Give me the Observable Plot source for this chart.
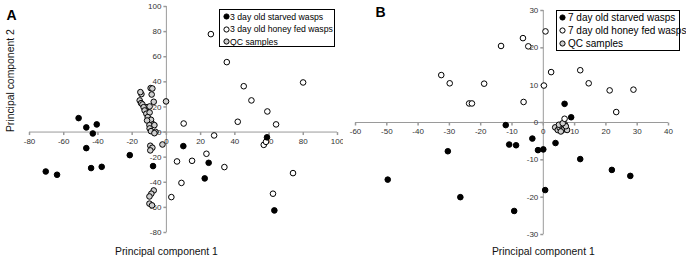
<!DOCTYPE html>
<html><head><meta charset="utf-8">
<script src="https://cdn.jsdelivr.net/npm/d3@7"></script>
<script src="https://cdn.jsdelivr.net/npm/@observablehq/plot@0.6"></script>
<style>
body{margin:0;background:#fff;}
#wrap{display:flex;width:686px;height:261px;overflow:hidden;}
.panel{position:relative;width:343px;height:261px;}
.legend{position:absolute;border:1px solid #000;background:#fff;font-family:"Liberation Sans",Arial,sans-serif;color:#000;box-sizing:border-box;}
.legend .row{display:flex;align-items:center;white-space:nowrap;}
.legend svg{flex:none;}
</style></head><body>
<div id="wrap"><div class="panel" id="pA"></div><div class="panel" id="pB"></div></div>
<script>
// ---------- Panel A data (3 day old) ----------
const starvedA = [[-51.3,11.1],[-46.8,3.7],[-40.7,6.1],[-43,-1.1],[-46.8,-12.8],[-70.5,-31.4],[-63.9,-34],[-44,-28.7],[-37.8,-27.7],[-21.4,-18.4],[-7.8,-27.1],[9.9,-11.2],[24.7,-24.5],[22.4,-36.9],[58.8,-4.2],[63.1,-62.4]];
const honeyA = [[26,78],[35.3,55.7],[45.2,36.5],[79.9,39.5],[49.7,25.2],[59,16.4],[41.7,8.2],[64.1,6.1],[10.1,6.8],[27.9,-2.7],[6.2,-23.4],[15,-22.9],[23.4,-17.3],[33.9,-27.9],[8.8,-40.5],[2.9,-51.8],[74,-32.7],[62.3,-49.1],[56.9,-10.2],[58.2,-7.8]];
const qcA = [[-0.2,24.4],[-9.2,35],[-8.2,34.7],[-8.6,29.9],[-14.6,30.2],[-15.2,31.8],[-15.6,25.2],[-14.8,23],[-14,22],[-7.4,24.1],[-11.3,19.8],[-9.8,20.4],[-13.3,19.8],[-12.7,17.2],[-11.7,14.6],[-9.8,15.6],[-10.9,11.9],[-9,9.8],[-11.3,9.2],[-7.8,6.1],[-9.9,5.5],[-7,5.5],[-9.8,2.9],[-9,0.7],[-6.4,0.2],[-7,-0.9],[-9.4,-10.9],[-8.2,-12.5],[-9.4,-14.6],[-2.3,-9.9],[-7.4,-46.5],[-8.8,-49.1],[-9.9,-51.3],[-9.9,-57],[-8.4,-58.4]];
const ticksA_x = [-80,-60,-40,-20,0,20,40,60,80,100];
const ticksA_y = [-80,-60,-40,-20,0,20,40,60,80,100];
const legendA = ["3 day old starved wasps","3 day old honey fed wasps","QC samples"];

// ---------- Panel B data (7 day old) ----------
const starvedB = [[6.8,5.0],[8.9,1.4],[-12,-0.7],[-10.9,-5.9],[-8.7,-6.1],[-3.5,-4.3],[3.9,-5.5],[-1.7,-7.4],[0,-7.2],[-30.5,-7.7],[-49.7,-15.3],[-26.5,-20],[-9.3,-23.7],[0.6,-18.1],[11.8,-9.8],[21.9,-12.7],[27.8,-14.3]];
const honeyB = [[0.7,24.4],[-6.5,22.6],[-4.8,20.4],[-13.5,20.5],[-32.6,12.7],[-29.9,10.5],[-18.9,10.4],[-23.7,5.1],[-22.8,5.1],[-6.3,5.5],[0.2,9.9],[2.5,13.5],[11.8,14],[14.5,10.5],[21.2,8.6],[28.8,8.8],[23.3,2.8],[6.8,1.0]];
const qcB = [[6.8,-0.4],[3.8,-1.3],[4.6,-2],[5.2,-1.4],[6,-2.1],[6.7,-1.7],[7.6,-2],[5.6,-2.4],[7.2,-1.0],[5.0,-0.6],[6.2,-0.2]];
const ticksB_x = [-60,-50,-40,-30,-20,-10,0,10,20,30,40];
const ticksB_y = [-30,-20,-10,0,10,20,30];
const legendB = ["7 day old starved wasps","7 day old honey fed wasps","QC samples"];

const axisColor = "#9a9a9a";
const labelColor = "#333";
const font = "Liberation Sans, Arial, sans-serif";
const fills = ["#000","#fff","#cfcfcf"];

const tickDown = {draw(ctx){ctx.moveTo(0,0);ctx.lineTo(0,3);}};
const tickLeft = {draw(ctx){ctx.moveTo(0,0);ctx.lineTo(-3,0);}};

function panel({starved, honey, qc, tx, ty, xdom, ydom, margins, letter, letterDx, letterDy, ytitle}) {
  const dots = (data, fill) => Plot.dot(data, {x: d => d[0], y: d => d[1], r: 2.8, fill, stroke: "#000", strokeWidth: 1});
  const marks = [
    Plot.ruleY([0], {x1: xdom[0], x2: xdom[1], stroke: axisColor}),
    Plot.ruleX([0], {y1: ydom[0], y2: ydom[1], stroke: axisColor}),
    Plot.dot(tx, {x: d => d, y: 0, symbol: tickDown, stroke: axisColor, fill: "none"}),
    Plot.dot(ty, {x: 0, y: d => d, symbol: tickLeft, stroke: axisColor, fill: "none"}),
    Plot.text(tx, {x: d => d, y: 0, text: d => String(d), dy: 9, lineAnchor: "middle", fill: labelColor, fontSize: 8}),
    Plot.text(ty, {x: 0, y: d => d, text: d => String(d), dx: -5, textAnchor: "end", lineAnchor: "middle", fill: labelColor, fontSize: 8}),
    dots(qc, fills[2]),
    dots(honey, fills[1]),
    dots(starved, fills[0]),
    Plot.text(["Principal component 1"], {x: 0, frameAnchor: "bottom", dy: margins[2] - 10, lineAnchor: "middle", fontSize: 10.4, fill: "#111"}),
    Plot.text([letter], {frameAnchor: "top-left", dx: letterDx, dy: letterDy, fontSize: 14, fontWeight: "bold", lineAnchor: "top", textAnchor: "start", fill: "#000"})
  ];
  if (ytitle) marks.push(Plot.text(["Principal component 2"], {y: 0, frameAnchor: "left", dx: -19, rotate: -90, lineAnchor: "middle", fontSize: 10.4, fill: "#111"}));
  return Plot.plot({
    width: 343, height: 261,
    marginTop: margins[0], marginRight: margins[1], marginBottom: margins[2], marginLeft: margins[3],
    x: {domain: xdom, axis: null},
    y: {domain: ydom, axis: null},
    style: {fontFamily: font, background: "#fff", overflow: "visible"},
    marks
  });
}

function legend(container, labels, {left, top, width, height, fontSize, rowH, padTop, padLeft, gap}) {
  const div = document.createElement("div");
  div.className = "legend";
  Object.assign(div.style, {left: left+"px", top: top+"px", width: width+"px", height: height+"px", fontSize: fontSize+"px", paddingTop: padTop+"px", paddingLeft: padLeft+"px"});
  labels.forEach((lab, i) => {
    const row = document.createElement("div");
    row.className = "row";
    row.style.height = rowH + "px";
    row.innerHTML = `<svg width="7" height="7" viewBox="-3.5 -3.5 7 7" style="margin-right:${gap}px"><circle r="2.6" fill="${fills[i]}" stroke="#000" stroke-width="1"/></svg><span>${lab}</span>`;
    div.appendChild(row);
  });
  container.appendChild(div);
}

const pA = document.getElementById("pA");
pA.appendChild(panel({starved: starvedA, honey: honeyA, qc: qcA, tx: ticksA_x, ty: ticksA_y,
  xdom: [-80,100], ydom: [-80,100], margins: [6,6,29,29], letter: "A", letterDx: -23, letterDy: 4, ytitle: true}));
legend(pA, legendA, {left: 219, top: 9, width: 116, height: 38, fontSize: 8.7, rowH: 12.5, padTop: 0.5, padLeft: 3, gap: 0});

const pB = document.getElementById("pB");
pB.appendChild(panel({starved: starvedB, honey: honeyB, qc: qcB, tx: ticksB_x, ty: ticksB_y,
  xdom: [-60,40], ydom: [-30,30], margins: [10,18,27,12], letter: "B", letterDx: 20, letterDy: -3, ytitle: false}));
legend(pB, legendB, {left: 213, top: 10, width: 124, height: 41, fontSize: 10, rowH: 13.2, padTop: 0, padLeft: 2, gap: 2});
</script>
</body></html>
